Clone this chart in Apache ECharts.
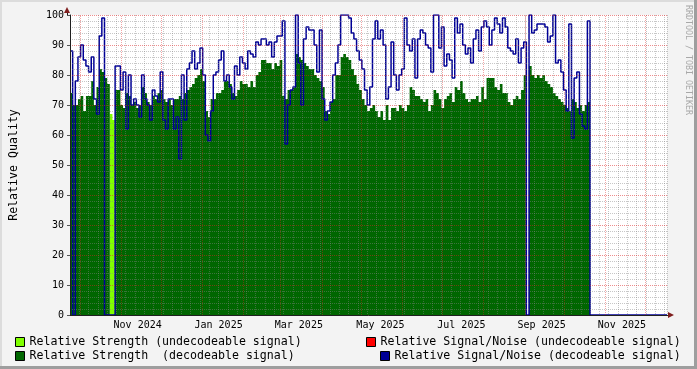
<!DOCTYPE html>
<html><head><meta charset="utf-8">
<script src="https://cdn.jsdelivr.net/npm/echarts@6/dist/echarts.min.js"></script>
<style>html,body{margin:0;padding:0;background:#f3f3f3;}#c{width:697px;height:369px;}</style>
</head><body><div id="c"></div>
<script>
// x axis unit: days since 2024-09-23 (Mon); one value every 2 days
const STEP = 2;
const X_MAX = 450;
const snrDecodeable = [
  88, 0, 78, 86, 90, 85, 83, 81, 86, 72,
  67, 93, 99, 0, 0, 0, 0, 83, 83, 75,
  81, 62, 80, 70, 72, 70, 66, 80, 72, 70,
  65, 75, 73, 71, 81, 65, 62, 72, 72, 62,
  66, 52, 80, 65, 82, 84, 88, 82, 84, 89,
  80, 60, 58, 68, 80, 81, 85, 88, 78, 80,
  76, 72, 83, 80, 86, 84, 82, 88, 87, 86,
  91, 90, 92, 92, 90, 91, 86, 91, 93, 93,
  98, 57, 70, 75, 76, 100, 84, 70, 92, 96,
  95, 95, 90, 81, 95, 72, 65, 68, 71, 80,
  84, 90, 100, 100, 100, 99, 94, 92, 88, 85,
  82, 75, 70, 76, 92, 98, 92, 95, 90, 72,
  76, 91, 80, 75, 80, 82, 99, 90, 88, 92,
  79, 92, 95, 94, 90, 89, 81, 100, 100, 89,
  96, 83, 87, 85, 79, 99, 94, 97, 90, 87,
  89, 84, 92, 95, 88, 96, 98, 96, 90, 95,
  99, 97, 94, 99, 96, 89, 88, 87, 92, 84,
  89, 91, 0, 100, 94, 95, 97, 97, 97, 96,
  91, 93, 100, 84, 85, 81, 75, 68, 97, 59,
  79, 81, 67, 63, 62, 98, 0, 0, 0, 0,
  0, 0, 0, 0, 0, 0, 0, 0, 0, 0,
  0, 0, 0, 0, 0, 0, 0, 0, 0, 0,
  0, 0, 0, 0, 0, 0
];
const strengthDecodeable = [
  74, 70, 70, 72, 73, 68, 73, 73, 78, 70,
  76, 82, 81, 79, 77, 0, 0, 75, 75, 70,
  69, 74, 73, 70, 71, 69, 70, 76, 74, 71,
  70, 73, 72, 74, 75, 72, 71, 72, 70, 72,
  72, 73, 72, 74, 75, 76, 77, 79, 80, 82,
  78, 68, 66, 72, 72, 74, 74, 75, 78, 78,
  77, 74, 73, 75, 78, 77, 77, 76, 78, 76,
  80, 81, 85, 85, 84, 84, 82, 84, 83, 85,
  73, 72, 75, 75, 76, 87, 86, 85, 84, 83,
  82, 82, 80, 79, 78, 76, 68, 67, 71, 72,
  80, 80, 86, 87, 86, 85, 82, 80, 77, 75,
  72, 70, 68, 69, 70, 68, 66, 68, 65, 70,
  65, 69, 69, 68, 70, 69, 68, 70, 76, 75,
  73, 73, 72, 71, 72, 68, 70, 75, 74, 72,
  69, 72, 73, 74, 71, 76, 75, 78, 74, 72,
  71, 72, 72, 73, 71, 76, 72, 79, 79, 79,
  76, 75, 77, 74, 74, 71, 70, 72, 73, 72,
  75, 80, 0, 83, 80, 79, 80, 79, 80, 78,
  77, 76, 74, 73, 72, 71, 70, 69, 68, 72,
  71, 69, 70, 68, 70, 71, 0
];
// undecodeable strength: sample indexes and values
const strengthUndecIdx = [15, 16, 17];
const strengthUndecodeable = [67, 65, 0];
const snrUndecodeable = [];
// month starts (days since start) for major grid
const monthStarts = [8, 39, 69, 100, 131, 159, 190, 220, 251, 281, 312, 343, 373, 404, 434];
const labelDays = [51, 112, 172.5, 234, 295, 355.5, 416];
const labelTexts = ['Nov 2024', 'Jan 2025', 'Mar 2025', 'May 2025', 'Jul 2025', 'Sep 2025', 'Nov 2025'];

const N1 = 'Relative Strength (undecodeable signal)';
const N2 = 'Relative Strength  (decodeable signal)';
const N3 = 'Relative Signal/Noise (undecodeable signal)';
const N4 = 'Relative Signal/Noise (decodeable signal)';
const C1 = '#80ff00', C2 = '#006600', C3 = '#ff0000', C4 = '#000096';
const FONT = 'DejaVu Sans Mono';

const toPts = arr => arr.map((v, i) => [i * STEP, v]);
const undecPts = strengthUndecIdx.map((k, j) => [k * STEP, strengthUndecodeable[j]]);

const gridMinor = 'rgba(130,130,130,0.45)';
const gridMajor = 'rgba(222,30,30,0.5)';

function legendItem(name, color, left, top) {
  return {
    left: left, top: top, padding: 0, itemWidth: 9, itemHeight: 9, itemGap: 0,
    selectedMode: false,
    textStyle: {fontFamily: FONT, fontSize: 11.6, color: '#000', padding: [0,0,0,0]},
    data: [{name: name, icon: 'rect', itemStyle: {color: color, borderColor: '#000', borderWidth: 1}}]
  };
}

const chart = echarts.init(document.getElementById('c'), null, {renderer: 'canvas'});
chart.setOption({
  animation: false,
  backgroundColor: '#f3f3f3',
  grid: {left: 67, top: 15, width: 600, height: 300, show: true, backgroundColor: '#ffffff', borderWidth: 0},
  legend: [
    legendItem(N1, C1, 15, 336),
    legendItem(N3, C3, 366, 336),
    legendItem(N2, C2, 15, 350),
    legendItem(N4, C4, 380, 350)
  ],
  xAxis: [
    {
      type: 'value', min: 0, max: X_MAX, position: 'bottom', z: 6,
      axisLine: {show: true, lineStyle: {color: '#1f1f1f', width: 1}},
      axisTick: {show: false},
      splitLine: {show: false},
      axisLabel: {show: true, customValues: labelDays, fontFamily: FONT, fontSize: 10, color: '#000', margin: 5,
        formatter: v => { const k = labelDays.indexOf(v); return k >= 0 ? labelTexts[k] : ''; }}
    },
    {
      type: 'value', min: 0, max: X_MAX, interval: 7, z: 5,
      axisLine: {show: false}, axisTick: {show: false}, axisLabel: {show: false},
      splitLine: {show: true, lineStyle: {color: gridMinor, type: [1, 1], width: 1}}
    }
  ],
  yAxis: {
    type: 'value', min: 0, max: 100, interval: 10, z: 6,
    name: 'Relative Quality', nameLocation: 'middle', nameGap: 50, nameRotate: 90,
    nameTextStyle: {fontFamily: FONT, fontSize: 11.6, color: '#000'},
    axisLine: {show: true, lineStyle: {color: '#1f1f1f', width: 1}},
    axisTick: {show: true, length: 3, lineStyle: {color: '#555'}},
    axisLabel: {fontFamily: FONT, fontSize: 10, color: '#000', margin: 6},
    splitLine: {show: true, lineStyle: {color: gridMajor, type: [1, 1], width: 1}},
    minorTick: {show: false, splitNumber: 5},
    minorSplitLine: {show: true, lineStyle: {color: gridMinor, type: [1, 1], width: 1}}
  },
  series: [
    {name: N1, type: 'line', step: 'end', symbol: 'none', xAxisIndex: 0, z: 2,
     data: undecPts, lineStyle: {width: 0}, itemStyle: {color: C1}, areaStyle: {color: C1, opacity: 1}},
    {name: N2, type: 'line', step: 'end', symbol: 'none', xAxisIndex: 0, z: 2,
     data: toPts(strengthDecodeable), lineStyle: {width: 0}, itemStyle: {color: C2}, areaStyle: {color: C2, opacity: 1}},
    {name: N3, type: 'line', step: 'end', symbol: 'none', xAxisIndex: 0, z: 3,
     data: toPts(snrUndecodeable), lineStyle: {width: 1.5, color: C3}, itemStyle: {color: C3}},
    {name: N4, type: 'line', step: 'end', symbol: 'none', xAxisIndex: 0, z: 3,
     data: toPts(snrDecodeable), lineStyle: {width: 1.5, color: C4}, itemStyle: {color: C4}}
  ],
  graphic: [
    {type: 'rect', left: 0, top: 0, shape: {width: 697, height: 2}, style: {fill: '#dcdcdc'}, silent: true},
    {type: 'rect', left: 0, top: 0, shape: {width: 2, height: 369}, style: {fill: '#dcdcdc'}, silent: true},
    {type: 'rect', left: 0, top: 366, shape: {width: 697, height: 3}, style: {fill: '#9e9e9e'}, silent: true},
    {type: 'rect', left: 694, top: 0, shape: {width: 3, height: 369}, style: {fill: '#9e9e9e'}, silent: true},
    {type: 'polygon', shape: {points: [[64, 13], [70, 13], [67, 7]]}, style: {fill: '#7f1f1f'}, z: 10, silent: true},
    {type: 'polygon', shape: {points: [[668, 312], [668, 318], [674, 315]]}, style: {fill: '#7f1f1f'}, z: 10, silent: true},
    {type: 'line', shape: {x1: 67.5, y1: 13, x2: 67.5, y2: 15}, style: {stroke: '#1f1f1f', lineWidth: 1}, silent: true},
    {type: 'line', shape: {x1: 667, y1: 315.5, x2: 668, y2: 315.5}, style: {stroke: '#1f1f1f', lineWidth: 1}, silent: true},
    {type: 'text', x: 684, y: 5, rotation: -Math.PI / 2,
     style: {text: 'RRDTOOL / TOBI OETIKER', font: '8.3px ' + FONT, fill: '#a8a8a8', textAlign: 'left', textVerticalAlign: 'bottom'}, silent: true}
  ]
});

// major (month) grid lines, snapped to pixel centres through the axis scale
const monthLineData = monthStarts.map(d => {
  const px = chart.convertToPixel({xAxisIndex: 0}, d);
  const snapped = chart.convertFromPixel({xAxisIndex: 0}, Math.round(px - 0.5) + 0.5);
  return {xAxis: snapped};
});
chart.setOption({
  series: [{}, {}, {}, {
    markLine: {silent: true, symbol: ['none', 'none'], label: {show: false}, z: 7, animation: false,
      emphasis: {disabled: true},
      lineStyle: {color: 'rgba(222,30,30,0.4)', type: [1, 1], width: 1},
      data: monthLineData}
  }]
});
</script></body></html>
